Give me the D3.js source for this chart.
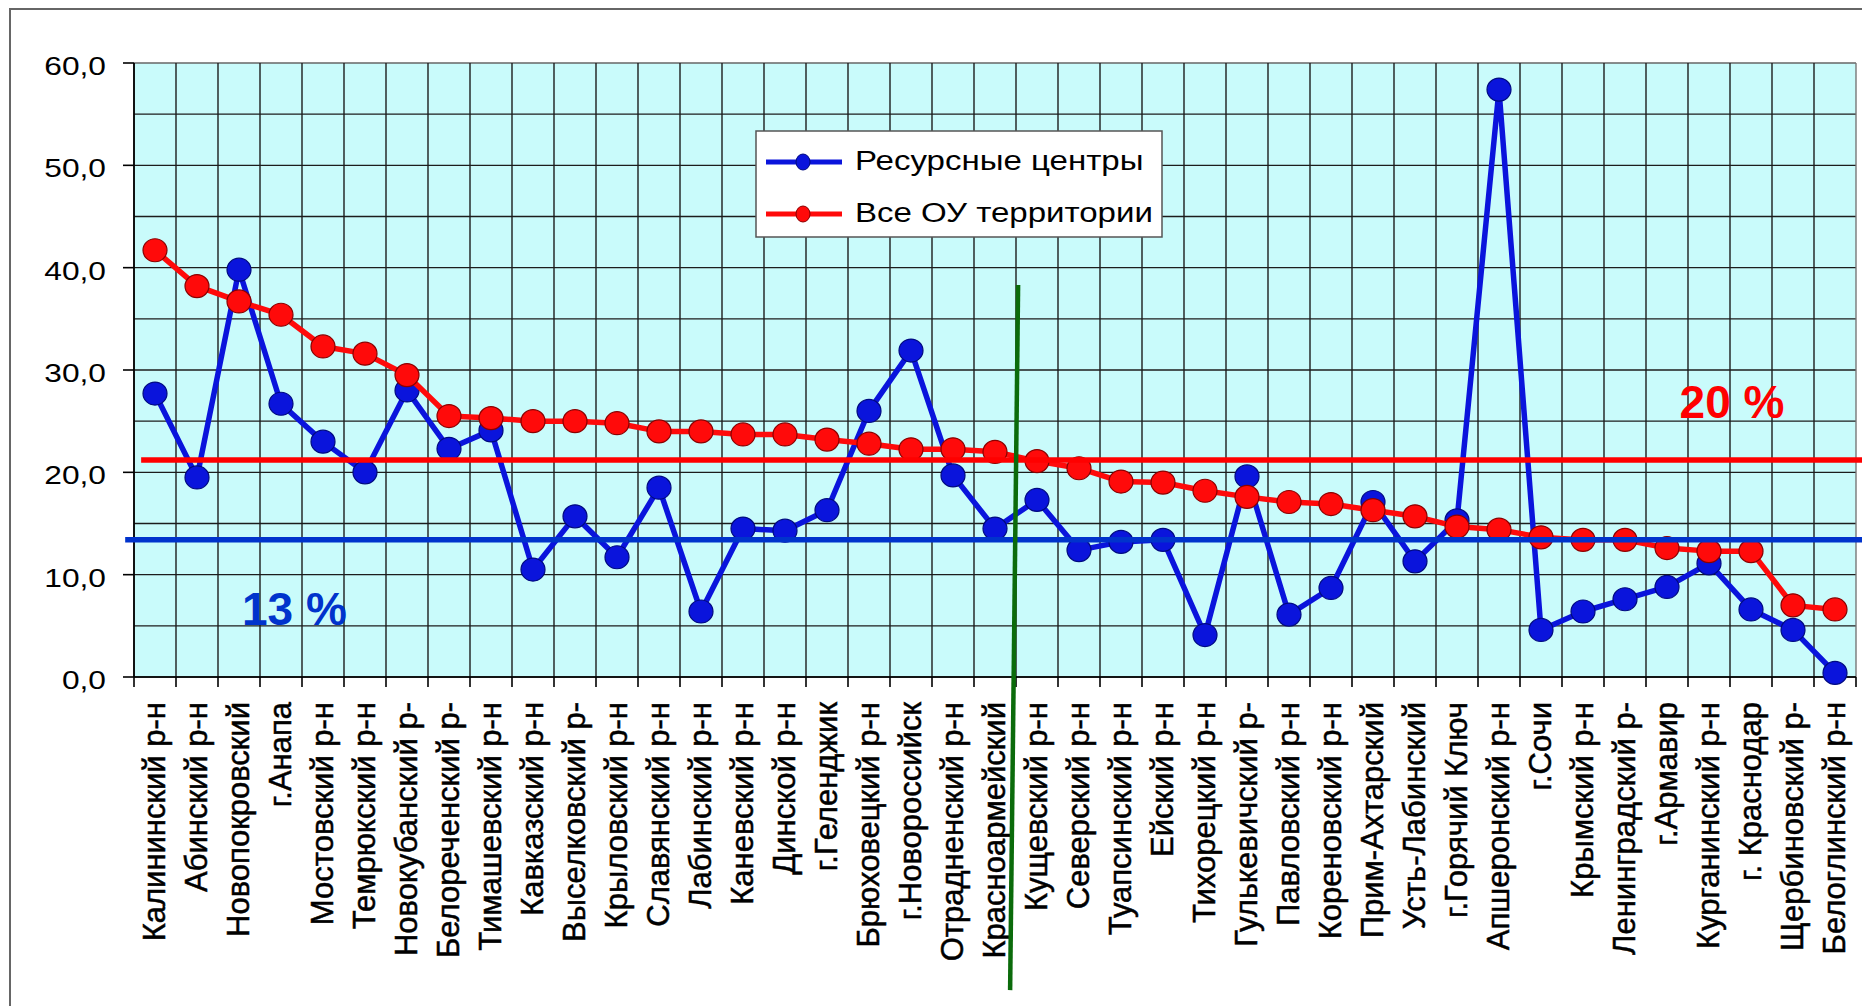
<!DOCTYPE html>
<html>
<head>
<meta charset="utf-8">
<script src="https://cdn.jsdelivr.net/npm/d3@7"></script>
<style>
  html, body { margin: 0; padding: 0; background: #ffffff; }
  svg { display: block; }
  text { font-family: "Liberation Sans", Arial, sans-serif; }
</style>
</head>
<body>
<svg id="chart" width="1862" height="1006"></svg>
<script>
// ---------- DATA ----------
const categories = [
  "Калининский р-н", "Абинский р-н", "Новопокровский", "г.Анапа", "Мостовский р-н",
  "Темрюкский р-н", "Новокубанский р-", "Белореченский р-", "Тимашевский р-н", "Кавказский р-н",
  "Выселковский р-", "Крыловский р-н", "Славянский р-н", "Лабинский р-н", "Каневский р-н",
  "Динской р-н", "г.Геленджик", "Брюховецкий р-н", "г.Новороссийск", "Отрадненский р-н",
  "Красноармейский", "Кущевский р-н", "Северский р-н", "Туапсинский р-н", "Ейский р-н",
  "Тихорецкий р-н", "Гулькевичский р-", "Павловский р-н", "Кореновский р-н", "Прим-Ахтарский",
  "Усть-Лабинский", "г.Горячий Ключ", "Апшеронский р-н", "г.Сочи", "Крымский р-н",
  "Ленинградский р-", "г.Армавир", "Курганинский р-н", "г. Краснодар", "Щербиновский р-",
  "Белоглинский р-н"
];

const resourceCenters = [
  27.7, 19.5, 39.8, 26.7, 23.0, 20.0, 28.0, 22.3, 24.1, 10.5,
  15.7, 11.7, 18.5, 6.4, 14.5, 14.3, 16.3, 26.0, 31.9, 19.7,
  14.5, 17.3, 12.4, 13.2, 13.4, 4.1, 19.6, 6.1, 8.7, 17.1,
  11.3, 15.3, 57.4, 4.6, 6.4, 7.6, 8.8, 11.1, 6.6, 4.6,
  0.4
];

const allSchools = [
  41.7, 38.2, 36.7, 35.4, 32.3, 31.6, 29.5, 25.5, 25.3, 25.0,
  25.0, 24.8, 24.0, 24.0, 23.7, 23.7, 23.2, 22.8, 22.25, 22.25,
  22.0, 21.1, 20.4, 19.1, 19.0, 18.2, 17.6, 17.1, 16.9, 16.3,
  15.7, 14.7, 14.4, 13.65, 13.4, 13.4, 12.6, 12.3, 12.3, 7.0,
  6.6
];

const seriesNames = ["Ресурсные центры", "Все ОУ территории"];
const yTicks = [0, 10, 20, 30, 40, 50, 60];
const yGrid = [0, 5, 10, 15, 20, 25, 30, 35, 40, 45, 50, 55, 60];

// Reference (average) lines, in data units: value and category-index span
const refValues = [21.2, 13.4];
const refStart = [0.17, -0.21];
const refEnd = [41.2, 41.2];
const refLabels = ["20 %", "13 %"];
const refLabelCat = [36.8, 2.57];
const refLabelValue = [25.3, 5.1];

// Green divider (category-index position, value)
const dividerCat = [21.05, 20.86];
const dividerValue = [38.3, -30.6];

// ---------- LAYOUT ----------
const svg = d3.select("#chart");
const plot = { left: 134, right: 1856, top: 63, bottom: 677 };

const x = d3.scaleBand().domain(categories).range([plot.left, plot.right]).padding(0);
const y = d3.scaleLinear().domain([0, 60]).range([plot.bottom, plot.top]);
const xc = c => x.range()[0] + c * x.step();         // fractional category position
const fmt = v => d3.format(".1f")(v).replace(".", ",");

const BLUE = "#0a14dc", BLUE_DARK = "#000a80";
const RED = "#ff0a0a", RED_DARK = "#8a0000";

// Outer frame
svg.append("path")
  .attr("d", `M10,1010 L10,9 L1870,9`)
  .attr("fill", "none").attr("stroke", "#666").attr("stroke-width", 2);

// Plot background
svg.append("rect")
  .attr("x", plot.left).attr("y", plot.top)
  .attr("width", plot.right - plot.left).attr("height", plot.bottom - plot.top)
  .attr("fill", "#c9fbfb");

// Grid
const grid = svg.append("g");
grid.selectAll("line.h").data(yGrid).join("line")
  .attr("x1", plot.left).attr("x2", plot.right)
  .attr("y1", d => y(d)).attr("y2", d => y(d))
  .attr("stroke", d => d === 60 ? "#666" : "#1c1c1c").attr("stroke-width", 1.4);
grid.selectAll("line.v").data(d3.range(categories.length + 1)).join("line")
  .attr("x1", d => xc(d)).attr("x2", d => xc(d))
  .attr("y1", plot.top).attr("y2", plot.bottom)
  .attr("stroke", d => d === categories.length ? "#777" : "#1c1c1c").attr("stroke-width", 1.4);

// Y axis
const yAxis = svg.append("g");
yAxis.append("line").attr("x1", plot.left).attr("x2", plot.left)
  .attr("y1", plot.top).attr("y2", plot.bottom).attr("stroke", "#000").attr("stroke-width", 1.6);
yAxis.selectAll("line.t").data(yTicks).join("line")
  .attr("x1", plot.left - 11).attr("x2", plot.left)
  .attr("y1", d => y(d)).attr("y2", d => y(d))
  .attr("stroke", "#000").attr("stroke-width", 1.6);
yAxis.selectAll("text").data(yTicks).join("text")
  .attr("transform", d => `translate(106,${y(d)}) scale(1.22,1)`)
  .attr("dy", "0.46em")
  .attr("text-anchor", "end")
  .attr("font-size", 26)
  .attr("fill", "#000")
  .text(d => fmt(d));

// X axis
const xAxis = svg.append("g");
xAxis.append("line").attr("x1", plot.left).attr("x2", plot.right)
  .attr("y1", plot.bottom).attr("y2", plot.bottom).attr("stroke", "#000").attr("stroke-width", 1.6);
xAxis.selectAll("line.t").data(d3.range(categories.length + 1)).join("line")
  .attr("x1", d => xc(d)).attr("x2", d => xc(d))
  .attr("y1", plot.bottom).attr("y2", plot.bottom + 10)
  .attr("stroke", "#000").attr("stroke-width", 1.6);
xAxis.selectAll("text").data(categories).join("text")
  .attr("transform", d => `translate(${x(d) + x.bandwidth() / 2},702) rotate(-90)`)
  .attr("dy", "0.33em")
  .attr("text-anchor", "end")
  .attr("font-size", 31)
  .attr("fill", "#000")
  .attr("stroke", "#000")
  .attr("stroke-width", 0.5)
  .text(d => d);

// Series
const line = d3.line().x((d, i) => x(categories[i]) + x.bandwidth() / 2).y(d => y(d));
function drawSeries(values, color, dark) {
  const g = svg.append("g");
  g.append("path").datum(values)
    .attr("d", line).attr("fill", "none")
    .attr("stroke", color).attr("stroke-width", 5.5).attr("stroke-linejoin", "round");
  g.selectAll("ellipse").data(values).join("ellipse")
    .attr("cx", (d, i) => x(categories[i]) + x.bandwidth() / 2)
    .attr("cy", d => y(d))
    .attr("rx", 12).attr("ry", 11.5)
    .attr("fill", color).attr("stroke", dark).attr("stroke-width", 1.2);
}
drawSeries(resourceCenters, BLUE, BLUE_DARK);
drawSeries(allSchools, RED, RED_DARK);

// Legend
const legend = svg.append("g");
legend.append("rect").attr("x", 756).attr("y", 131).attr("width", 406).attr("height", 106)
  .attr("fill", "#fff").attr("stroke", "#555").attr("stroke-width", 1.5);
const legendColors = [[BLUE, BLUE_DARK], [RED, RED_DARK]];
seriesNames.forEach((name, i) => {
  const ly = 162 + i * 52;
  legend.append("line").attr("x1", 766).attr("x2", 842).attr("y1", ly).attr("y2", ly)
    .attr("stroke", legendColors[i][0]).attr("stroke-width", 5);
  legend.append("ellipse").attr("cx", 803).attr("cy", ly).attr("rx", 7).attr("ry", 8)
    .attr("fill", legendColors[i][0]).attr("stroke", legendColors[i][1]).attr("stroke-width", 1);
  legend.append("text")
    .attr("transform", `translate(855,${ly + 8}) scale(1.18,1)`)
    .attr("font-size", 28).attr("fill", "#000")
    .text(name);
});

// Reference lines
const refColors = ["#ff0000", "#0033cc"];
refValues.forEach((v, i) => {
  svg.append("line")
    .attr("x1", xc(refStart[i])).attr("x2", xc(refEnd[i]))
    .attr("y1", y(v)).attr("y2", y(v))
    .attr("stroke", refColors[i]).attr("stroke-width", 5.5);
  svg.append("text")
    .attr("x", xc(refLabelCat[i])).attr("y", y(refLabelValue[i]))
    .attr("font-size", 46).attr("font-weight", "bold")
    .attr("fill", refColors[i])
    .text(refLabels[i]);
});

// Green divider
svg.append("line")
  .attr("x1", xc(dividerCat[0])).attr("y1", y(dividerValue[0]))
  .attr("x2", xc(dividerCat[1])).attr("y2", y(dividerValue[1]))
  .attr("stroke", "#0b6b0b").attr("stroke-width", 4.5);
</script>
</body>
</html>
